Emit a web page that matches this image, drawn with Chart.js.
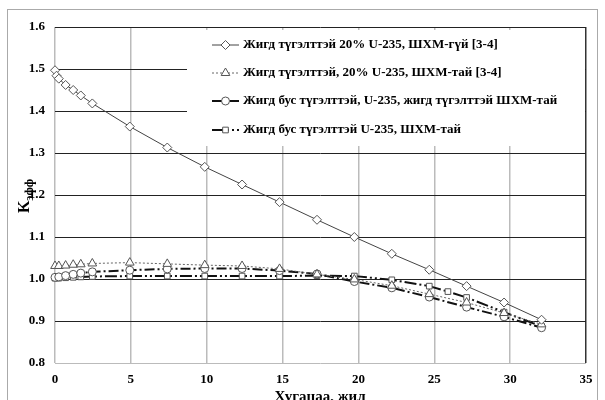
<!DOCTYPE html>
<html>
<head>
<meta charset="utf-8">
<script src="https://cdn.jsdelivr.net/npm/chart.js@4"></script>
<style>
  body { margin: 0; background: #fff; }
  #wrap { width: 605px; height: 400px; }
</style>
</head>
<body>
<div id="wrap"><canvas id="chart" width="605" height="400"></canvas></div>
<script>
// series: time (years) and k-eff
let names = ["Жигд түгэлттэй 20% U-235, ШХМ-гүй [3-4]",
  "Жигд түгэлттэй, 20% U-235, ШХМ-тай [3-4]",
  "Жигд бус түгэлттэй, U-235, жигд түгэлттэй ШХМ-тай",
  "Жигд бус түгэлттэй U-235, ШХМ-тай"];

let xDiamond = [0, 0.1, 0.25, 0.7, 1.2, 1.7, 2.46, 4.93, 7.4, 9.87, 12.33, 14.8, 17.27, 19.73, 22.2, 24.67, 27.13, 29.6, 32.07];
let yDiamond = [1.497, 1.484, 1.477, 1.462, 1.45, 1.437, 1.418, 1.363, 1.313, 1.267, 1.225, 1.183, 1.141, 1.10, 1.06, 1.022, 0.983, 0.944, 0.903];

let xTriangle = [0, 0.25, 0.7, 1.2, 1.7, 2.46, 4.93, 7.4, 9.87, 12.33, 14.8, 17.27, 19.73, 22.2, 24.67, 27.13, 29.6, 32.07];
let yTriangle = [1.031, 1.031, 1.032, 1.034, 1.035, 1.037, 1.039, 1.036, 1.033, 1.031, 1.024, 1.011, 0.999, 0.984, 0.964, 0.944, 0.919, 0.892];

let xCircle = [0, 0.25, 0.7, 1.2, 1.7, 2.46, 4.93, 7.4, 9.87, 12.33, 14.8, 17.27, 19.73, 22.2, 24.67, 27.13, 29.6, 32.07];
let yCircle = [1.004, 1.005, 1.008, 1.011, 1.014, 1.017, 1.021, 1.024, 1.025, 1.025, 1.02, 1.012, 0.994, 0.979, 0.957, 0.933, 0.91, 0.884];

let xSquare = [0, 0.25, 0.7, 1.2, 1.7, 2.46, 4.93, 7.4, 9.87, 12.33, 14.8, 17.27, 19.73, 22.2, 24.67, 25.9, 27.13, 29.6, 32.07];
let ySquare = [1.002, 1.002, 1.003, 1.004, 1.005, 1.006, 1.007, 1.007, 1.007, 1.007, 1.007, 1.008, 1.007, 0.998, 0.983, 0.97, 0.956, 0.921, 0.887];

let xTicks = [0, 5, 10, 15, 20, 25, 30, 35];
let yTicks = [0.8, 0.9, 1.0, 1.1, 1.2, 1.3, 1.4, 1.5, 1.6];

const serif = "'Liberation Serif', 'Times New Roman', serif";

function pts(xs, ys) {
  return xs.map((x, i) => ({ x: x, y: ys[i] }));
}

function series(i, xs, ys, style, radius, dash, width, color) {
  return {
    label: names[i],
    data: pts(xs, ys),
    borderColor: color,
    borderWidth: width,
    borderDash: dash,
    pointStyle: style,
    pointRadius: radius,
    pointBorderColor: "#555",
    pointBackgroundColor: "#fff",
    pointBorderWidth: 1,
    tension: 0,
    clip: false
  };
}

let datasets = [
  series(0, xDiamond, yDiamond, "rectRot", 4.5, [], 1, "#444"),
  series(1, xTriangle, yTriangle, "triangle", 5, [2, 2], 1, "#666"),
  series(2, xCircle, yCircle, "circle", 4, [10, 3, 2, 3], 2, "#111"),
  series(3, xSquare, ySquare, "rect", 4, [12, 3, 2, 3, 2, 3], 2, "#111")
];

// frame, axis titles and the legend box inside the plot
const extras = {
  id: "extras",
  beforeDraw(c) {
    let ctx = c.ctx;
    ctx.save();
    ctx.fillStyle = "#fff";
    ctx.fillRect(0, 0, c.width, c.height);
    ctx.strokeStyle = "#aaa";
    ctx.lineWidth = 1;
    ctx.strokeRect(7.5, 9.5, 590, 420);
    ctx.restore();
  },
  afterDraw(c) {
    let ctx = c.ctx;
    ctx.save();
    // legend
    ctx.fillStyle = "#fff";
    ctx.fillRect(187, 30, 398, 116);
    let rows = [45, 73, 101, 130];
    c.data.datasets.forEach((ds, i) => {
      let y = rows[i];
      ctx.save();
      ctx.strokeStyle = ds.borderColor;
      ctx.lineWidth = ds.borderWidth;
      ctx.setLineDash(ds.borderDash);
      ctx.beginPath();
      ctx.moveTo(212, y);
      ctx.lineTo(239, y);
      ctx.stroke();
      ctx.restore();
      ctx.fillStyle = "#fff";
      ctx.strokeStyle = "#555";
      ctx.lineWidth = 1;
      ctx.setLineDash([]);
      Chart.helpers.drawPoint(ctx, { pointStyle: ds.pointStyle, radius: ds.pointRadius, borderWidth: 1 }, 225.5, y);
      ctx.fillStyle = "#000";
      ctx.font = "bold 13px " + serif;
      ctx.textBaseline = "middle";
      ctx.textAlign = "left";
      ctx.fillText(ds.label, 243, y);
    });
    // x title
    ctx.fillStyle = "#000";
    ctx.font = "bold 15px " + serif;
    ctx.textAlign = "center";
    ctx.textBaseline = "middle";
    ctx.fillText("Хугацаа, жил", 320, 397);
    // y title K with subscript
    ctx.translate(29, 196);
    ctx.rotate(-Math.PI / 2);
    ctx.textAlign = "left";
    ctx.textBaseline = "alphabetic";
    ctx.font = "bold 16px " + serif;
    let kw = ctx.measureText("K").width;
    ctx.font = "bold 12px " + serif;
    let sw = ctx.measureText("эфф").width;
    let start = -(kw + sw) / 2;
    ctx.font = "bold 16px " + serif;
    ctx.fillText("K", start, 0);
    ctx.font = "bold 12px " + serif;
    ctx.fillText("эфф", start + kw, 4);
    ctx.restore();
  }
};

let chart = new Chart(document.getElementById("chart").getContext("2d"), {
  type: "line",
  data: { datasets: datasets },
  plugins: [extras],
  options: {
    responsive: false,
    animation: false,
    layout: { padding: { left: 0, right: 19, top: 27, bottom: 0 } },
    plugins: { legend: { display: false }, tooltip: { enabled: false } },
    scales: {
      x: {
        type: "linear",
        min: xTicks[0],
        max: xTicks[xTicks.length - 1],
        afterBuildTicks: s => { s.ticks = xTicks.map(v => ({ value: v })); },
        afterFit: s => { s.height = 37; },
        border: { display: false },
        grid: {
          drawTicks: false,
          color: ctx => ctx.tick && ctx.tick.value == 35 ? "#333" : "#bbb",
          lineWidth: 1.5
        },
        ticks: {
          padding: 9,
          color: "#000",
          font: { family: serif, size: 13, weight: "bold" }
        }
      },
      y: {
        min: yTicks[0],
        max: yTicks[yTicks.length - 1],
        afterBuildTicks: s => { s.ticks = yTicks.map(v => ({ value: v })); },
        afterFit: s => { s.width = 55; },
        border: { display: false },
        grid: {
          drawTicks: false,
          color: ctx => ctx.tick && ctx.tick.value < 0.85 ? "#bbb" : "#222",
          lineWidth: 1
        },
        ticks: {
          padding: 10,
          color: "#000",
          font: { family: serif, size: 13, weight: "bold" },
          callback: v => Number(v).toFixed(1)
        }
      }
    }
  }
});
</script>
</body>
</html>
